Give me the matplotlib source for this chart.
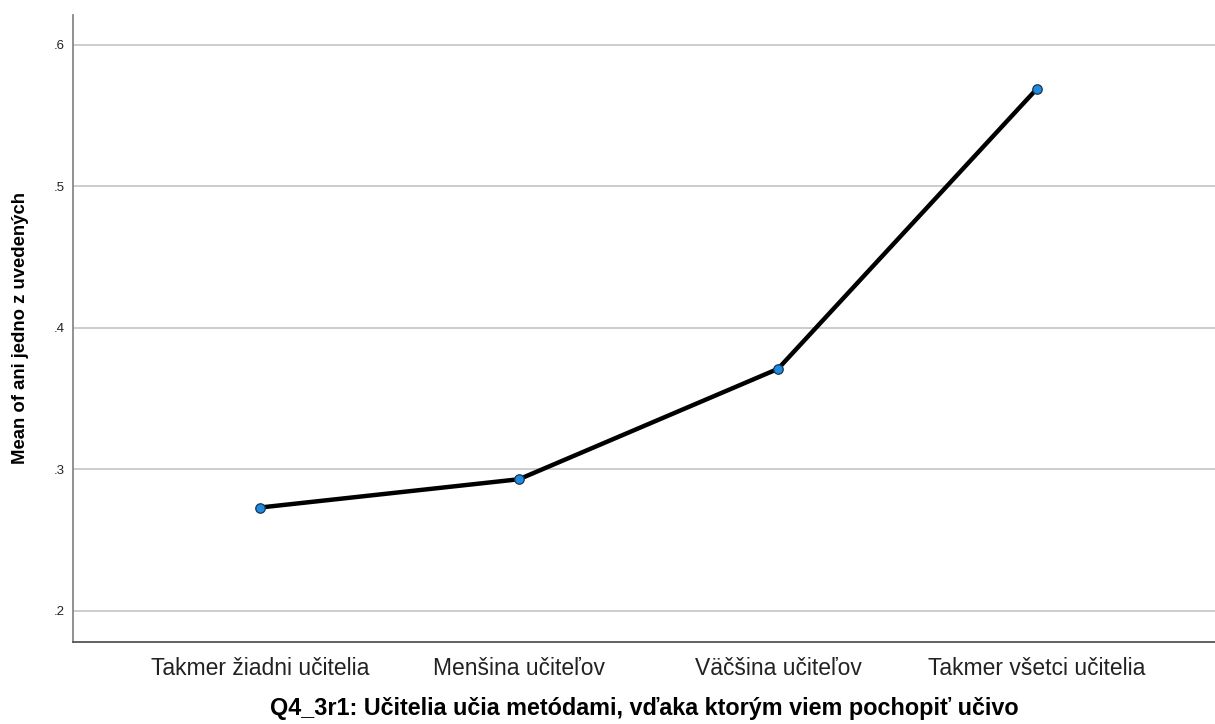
import matplotlib
matplotlib.use("Agg")
import matplotlib.pyplot as plt

categories = ["Takmer žiadni učitelia", "Menšina učiteľov", "Väčšina učiteľov", "Takmer všetci učitelia"]
means = [0.273, 0.293, 0.371, 0.569]
yticks = [0.2, 0.3, 0.4, 0.5, 0.6]
ytick_labels = [".2", ".3", ".4", ".5", ".6"]

plt.rcParams['font.family'] = ['Liberation Sans', 'DejaVu Sans']

fig = plt.figure(figsize=(12.15, 7.24), dpi=100)
ax = fig.add_axes([73/1215, 1-642/724, 1-73/1215, (642-15)/724])

x = list(range(len(categories)))
ax.plot(x, means, color='black', lw=3.2, zorder=3, solid_capstyle='round')
ax.plot(x, means, 'o', ms=6.8, markerfacecolor='#1f8be0', markeredgecolor='#1a3550', mew=0.9, zorder=4)

ax.set_xlim(-0.722, 3.687)
ax.set_ylim(0.178, 0.621)
ax.set_yticks(yticks)
ax.set_yticklabels(ytick_labels, fontsize=9.5, color='#222222')
ax.set_xticks(x)
ax.set_xticklabels(categories, fontsize=16.5, color='#222222')
ax.tick_params(length=0)
ax.tick_params(axis='y', pad=6)
ax.tick_params(axis='x', pad=11)
ax.grid(axis='y', color='#c8c8c8', lw=1.3, zorder=1)
for s in ['top', 'right']:
    ax.spines[s].set_visible(False)
ax.spines['left'].set_color('#888888')
ax.spines['left'].set_linewidth(1.3)
ax.spines['bottom'].set_color('#555555')
ax.spines['bottom'].set_linewidth(1.3)

ax.set_xlabel("Q4_3r1: Učitelia učia metódami, vďaka ktorým viem pochopiť učivo", fontsize=16.8, fontweight='bold', labelpad=12)
ax.set_ylabel("Mean of ani jedno z uvedených", fontsize=13.3, fontweight='bold', labelpad=17.5)

fig.savefig("out.png", dpi=100)
